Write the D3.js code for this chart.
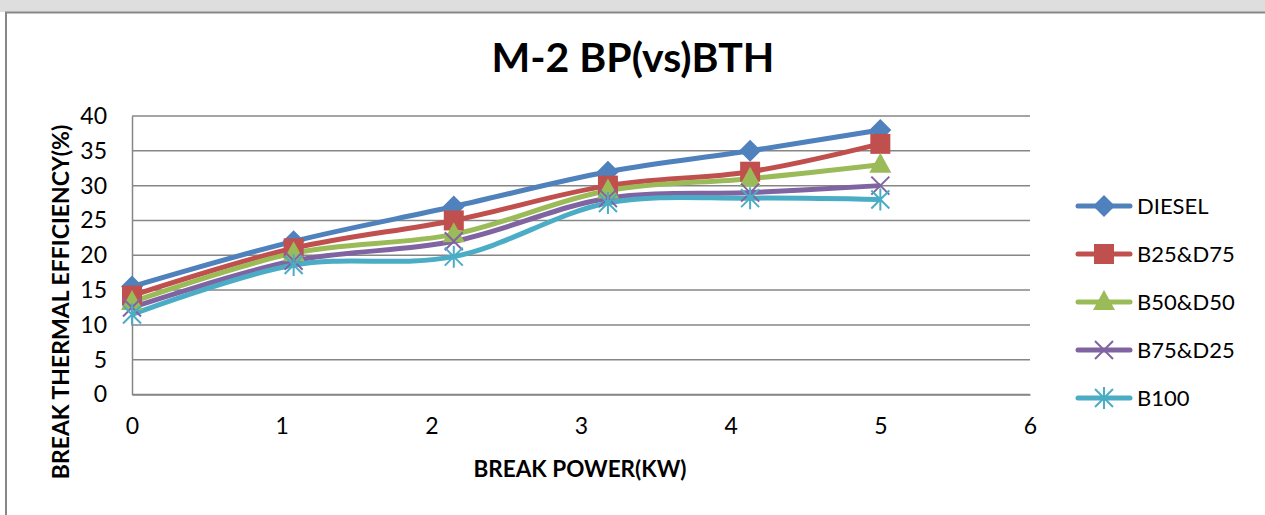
<!DOCTYPE html>
<html lang="en">
<head>
  <meta charset="UTF-8">
  <title>M-2 BP(vs)BTH</title>
  <style>
    body { margin: 0; background: #fff; }
    svg text { font-family: Lato, "Open Sans", sans-serif; fill: #000; }
  </style>
  <script src="https://d3js.org/d3.v7.min.js"></script>
</head>
<body>
  <div id="chart"></div>
  <script>
    // break power (kW) for each load step
    const breakPower = [0, 1.08, 2.15, 3.18, 4.13, 5];

    const seriesNames = ["DIESEL", "B25&D75", "B50&D50", "B75&D25", "B100"];
    const diesel = [15.5, 22, 27, 32, 35, 38];
    const b25d75 = [14.2, 21, 25, 30, 32, 36];
    const b50d50 = [13.3, 20.3, 23, 29.3, 31, 33];
    const b75d25 = [12.5, 19.2, 22, 28.2, 29, 30];
    const b100 = [11.5, 18.6, 19.8, 27.5, 28.2, 28];

    const xTicks = [0, 1, 2, 3, 4, 5, 6];
    const yTicks = [0, 5, 10, 15, 20, 25, 30, 35, 40];

    const colors = ["#4F81BD", "#C0504D", "#9BBB59", "#8064A2", "#4BACC6"];
    const markers = ["diamond", "square", "triangle", "cross", "star"];

    const series = [diesel, b25d75, b50d50, b75d25, b100].map((vals, i) => ({
      name: seriesNames[i],
      color: colors[i],
      marker: markers[i],
      points: vals.map((v, j) => ({ x: breakPower[j], y: v }))
    }));

    const svg = d3.select("#chart")
      .append("svg")
      .attr("width", 1265)
      .attr("height", 515);

    // faded strip of the previous page above the chart frame
    svg.append("rect")
      .attr("x", 0).attr("y", 0)
      .attr("width", 1265).attr("height", 12)
      .attr("fill", "#dedede");

    // chart frame (top and left edges)
    svg.append("path")
      .attr("d", "M6,515V12.5H1265")
      .attr("fill", "none")
      .attr("stroke", "#878787")
      .attr("stroke-width", 2);

    const xScale = d3.scaleLinear().domain([0, 6]).range([132, 1030]);
    const yScale = d3.scaleLinear().domain([0, 40]).range([394.5, 116]);

    // gridlines
    svg.append("g")
      .selectAll("line")
      .data(yTicks)
      .join("line")
      .attr("x1", xScale(0))
      .attr("x2", xScale(6))
      .attr("y1", d => yScale(d))
      .attr("y2", d => yScale(d))
      .attr("stroke", "#868686")
      .attr("stroke-width", 1.5);

    // y axis
    const yAxis = svg.append("g")
      .attr("transform", `translate(${xScale(0)},0)`)
      .call(d3.axisLeft(yScale).tickValues(yTicks).tickSize(0).tickPadding(25));
    yAxis.select(".domain").attr("stroke", "#868686").attr("stroke-width", 1.5);
    yAxis.selectAll("text").style("font-size", "23px").style("font-family", "Lato");

    // x axis
    const xAxis = svg.append("g")
      .attr("transform", `translate(0,${yScale(0)})`)
      .call(d3.axisBottom(xScale).tickValues(xTicks).tickSize(0).tickPadding(23).tickFormat(d3.format("d")));
    xAxis.select(".domain").attr("stroke", "#868686").attr("stroke-width", 1.5);
    xAxis.selectAll("text").style("font-size", "23px").style("font-family", "Lato");

    // lines
    const line = d3.line()
      .x(d => xScale(d.x))
      .y(d => yScale(d.y))
      .curve(d3.curveCatmullRom.alpha(0.5));

    svg.append("g")
      .selectAll("path")
      .data(series)
      .join("path")
      .attr("d", d => line(d.points))
      .attr("fill", "none")
      .attr("stroke", d => d.color)
      .attr("stroke-width", 5)
      .attr("stroke-linejoin", "round");

    function drawMarker(g, type, color) {
      if (type === "diamond") {
        g.append("path").attr("d", "M0,-11L11,0L0,11L-11,0Z").attr("fill", color);
      } else if (type === "square") {
        g.append("rect").attr("x", -10).attr("y", -10).attr("width", 20).attr("height", 20).attr("fill", color);
      } else if (type === "triangle") {
        g.append("path").attr("d", "M0,-12L11,8L-11,8Z").attr("fill", color);
      } else if (type === "cross") {
        g.append("path").attr("d", "M-9,-9L9,9M-9,9L9,-9").attr("stroke", color).attr("stroke-width", 2);
      } else if (type === "star") {
        g.append("path").attr("d", "M-9,-9L9,9M-9,9L9,-9M0,-11V11").attr("stroke", color).attr("stroke-width", 2);
      }
    }

    series.forEach(s => {
      s.points.forEach(p => {
        const g = svg.append("g").attr("transform", `translate(${xScale(p.x)},${yScale(p.y)})`);
        drawMarker(g, s.marker, s.color);
      });
    });

    // title
    svg.append("text")
      .attr("x", 633)
      .attr("y", 72)
      .attr("text-anchor", "middle")
      .style("font-size", "41px")
      .style("font-weight", "bold")
      .text("M-2 BP(vs)BTH");

    // axis titles
    svg.append("text")
      .attr("x", 580)
      .attr("y", 477)
      .attr("text-anchor", "middle")
      .style("font-size", "22.5px")
      .style("font-weight", "bold")
      .text("BREAK POWER(KW)");

    svg.append("text")
      .attr("transform", "translate(69,302) rotate(-90)")
      .attr("text-anchor", "middle")
      .style("font-size", "23px")
      .style("font-weight", "bold")
      .text("BREAK THERMAL EFFICIENCY(%)");

    // legend
    const legend = svg.append("g");
    series.forEach((s, i) => {
      const y = 206 + i * 48;
      const g = legend.append("g").attr("transform", `translate(0,${y})`);
      g.append("line")
        .attr("x1", 1078).attr("x2", 1130)
        .attr("stroke", s.color).attr("stroke-width", 5).attr("stroke-linecap", "round");
      const m = g.append("g").attr("transform", "translate(1104,0)");
      drawMarker(m, s.marker, s.color);
      g.append("text")
        .attr("x", 1137)
        .attr("y", 0)
        .attr("dy", "0.36em")
        .style("font-size", "22px")
        .text(s.name);
    });
  </script>
</body>
</html>
